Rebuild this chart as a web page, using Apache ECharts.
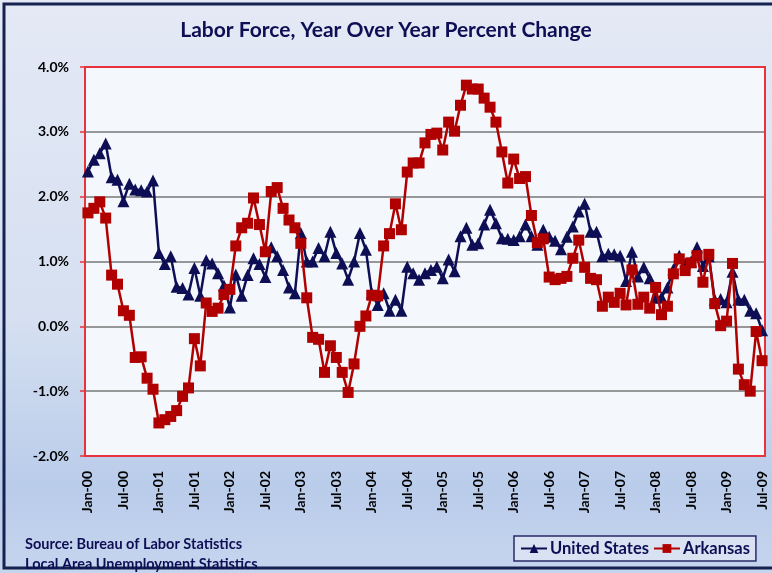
<!DOCTYPE html>
<html>
<head>
<meta charset="utf-8">
<script src="https://cdn.jsdelivr.net/npm/echarts@6/dist/echarts.min.js"></script>
<style>
  html, body { margin: 0; padding: 0; background: #fff; }
  #chart { width: 772px; height: 573px; }
</style>
</head>
<body>
<div id="chart"></div>
<script>
// month labels Jan-00 .. Jul-09
const monthNames = ['Jan','Feb','Mar','Apr','May','Jun','Jul','Aug','Sep','Oct','Nov','Dec'];
const years = ['00','01','02','03','04','05','06','07','08','09'];
const lastMonthOfLastYear = 7; // data stops at Jul-09

// year over year percent change, United States
const usValues = [
  2.39, 2.57, 2.67, 2.82, 2.30, 2.26, 1.93, 2.20, 2.11, 2.10, 2.08, 2.25,
  1.13, 0.96, 1.08, 0.61, 0.59, 0.49, 0.90, 0.47, 1.02, 0.97, 0.82, 0.63,
  0.29, 0.80, 0.47, 0.79, 1.05, 0.96, 0.76, 1.22, 1.08, 0.87, 0.60, 0.51,
  1.44, 1.00, 1.00, 1.21, 1.08, 1.46, 1.13, 0.97, 0.72, 1.00, 1.44, 1.18,
  0.51, 0.33, 0.51, 0.24, 0.41, 0.24, 0.92, 0.82, 0.72, 0.82, 0.87, 0.92,
  0.74, 1.03, 0.85, 1.39, 1.52, 1.26, 1.28, 1.57, 1.80, 1.59, 1.36, 1.35,
  1.33, 1.39, 1.57, 1.39, 1.26, 1.49, 1.38, 1.32, 1.19, 1.38, 1.54, 1.77,
  1.89, 1.46, 1.46, 1.08, 1.12, 1.11, 1.09, 0.70, 1.15, 0.77, 0.91, 0.74,
  0.44, 0.45, 0.60, 0.88, 1.09, 0.97, 1.00, 1.22, 0.93, 1.08, 0.41, 0.42,
  0.37, 0.84, 0.41, 0.41, 0.24, 0.20, -0.06
];

// year over year percent change, Arkansas
const arValues = [
  1.75, 1.82, 1.92, 1.67, 0.79, 0.65, 0.24, 0.17, -0.48, -0.47, -0.80, -0.97,
  -1.49, -1.44, -1.39, -1.30, -1.08, -0.95, -0.19, -0.61, 0.36, 0.23, 0.28, 0.49,
  0.57, 1.24, 1.52, 1.59, 1.98, 1.57, 1.15, 2.08, 2.14, 1.82, 1.64, 1.52,
  1.28, 0.44, -0.17, -0.20, -0.71, -0.30, -0.48, -0.71, -1.02, -0.58, 0.00, 0.16,
  0.48, 0.47, 1.24, 1.43, 1.89, 1.49, 2.38, 2.52, 2.52, 2.83, 2.96, 2.98,
  2.72, 3.15, 3.01, 3.41, 3.72, 3.66, 3.66, 3.52, 3.38, 3.15, 2.69, 2.21,
  2.58, 2.28, 2.31, 1.71, 1.29, 1.35, 0.76, 0.72, 0.74, 0.77, 1.05, 1.33,
  0.91, 0.74, 0.72, 0.31, 0.45, 0.37, 0.51, 0.33, 0.87, 0.34, 0.45, 0.28,
  0.60, 0.18, 0.31, 0.81, 1.04, 0.86, 0.98, 1.09, 0.68, 1.11, 0.35, 0.01,
  0.08, 0.97, -0.66, -0.90, -1.00, -0.08, -0.53
];

const categories = [];
years.forEach((y, yi) => {
  monthNames.forEach((m, mi) => {
    if (yi === years.length - 1 && mi >= lastMonthOfLastYear) return;
    categories.push(m + '-' + y);
  });
});

const fontFamily = 'Lato, "Open Sans", sans-serif';
const navy = '#0E0E55';
const red = '#B00000';
const plotBorder = '#E8323C';

var myChart = echarts.init(document.getElementById('chart'));

var option = {
  backgroundColor: {
    type: 'linear', x: 0, y: 0, x2: 0, y2: 1,
    colorStops: [
      { offset: 0, color: '#E4E9F5' },
      { offset: 0.55, color: '#D6E0F1' },
      { offset: 0.85, color: '#B9CCEA' },
      { offset: 1, color: '#C6D5EE' }
    ]
  },
  textStyle: { fontFamily: fontFamily },
  animation: false,
  title: {
    text: 'Labor Force, Year Over Year Percent Change',
    left: 'center',
    top: 15,
    textStyle: { fontFamily: fontFamily, fontSize: 21, fontWeight: 'bold', color: navy }
  },
  legend: {
    data: ['United States', 'Arkansas'],
    left: 514,
    top: 536,
    itemWidth: 26,
    itemHeight: 11,
    itemGap: 4,
    padding: [4, 6, 4, 6],
    borderColor: '#2A2A6A',
    borderWidth: 1.5,
    backgroundColor: '#D8E2F2',
    textStyle: { fontFamily: fontFamily, fontSize: 16.5, fontWeight: 'bold', color: navy, padding: [0, 0, 0, -2] }
  },
  grid: {
    show: true,
    left: 85,
    top: 67,
    width: 680,
    height: 389,
    backgroundColor: '#F4F8FC',
    borderColor: plotBorder,
    borderWidth: 2
  },
  xAxis: {
    type: 'category',
    data: categories,
    boundaryGap: true,
    axisLine: { show: false },
    axisTick: { show: false },
    axisLabel: {
      interval: 5,
      rotate: 90,
      margin: 15,
      fontFamily: fontFamily,
      fontSize: 14,
      fontWeight: 'bold',
      color: '#000'
    }
  },
  yAxis: {
    type: 'value',
    min: -2,
    max: 4,
    interval: 1,
    axisLine: { show: false },
    axisTick: { show: true, length: 5, lineStyle: { color: plotBorder, width: 1.5 } },
    axisLabel: {
      margin: 16,
      fontFamily: fontFamily,
      fontSize: 14,
      fontWeight: 'bold',
      color: '#000',
      formatter: function (v) { return v.toFixed(1) + '%'; }
    },
    splitLine: { lineStyle: { color: '#777', width: 1.5 } }
  },
  graphic: [
    {
      type: 'rect',
      shape: { x: 4, y: 4, width: 800, height: 564 },
      style: { fill: 'none', stroke: '#15214E', lineWidth: 3 },
      silent: true
    },
    {
      // plot frame, drawn again so the right edge stays visible
      type: 'rect',
      shape: { x: 85, y: 67, width: 680, height: 389 },
      style: { fill: 'none', stroke: plotBorder, lineWidth: 2 },
      silent: true,
      z: 1
    },
    {
      type: 'text',
      left: 25,
      top: 537,
      style: { text: 'Source: Bureau of Labor Statistics', font: 'bold 14.5px ' + fontFamily, fill: navy }
    },
    {
      type: 'text',
      left: 25,
      top: 557,
      style: { text: 'Local Area Unemployment Statistics', font: 'bold 14.5px ' + fontFamily, fill: navy }
    }
  ],
  series: [
    {
      name: 'United States',
      type: 'line',
      data: usValues,
      symbol: 'triangle',
      symbolSize: 12,
      showAllSymbol: true,
      itemStyle: { color: navy },
      lineStyle: { color: navy, width: 2.5 },
      z: 2
    },
    {
      name: 'Arkansas',
      type: 'line',
      data: arValues,
      symbol: 'rect',
      symbolSize: 11,
      showAllSymbol: true,
      itemStyle: { color: red },
      lineStyle: { color: red, width: 2.5 },
      z: 3
    }
  ]
};

myChart.setOption(option);
</script>
</body>
</html>
